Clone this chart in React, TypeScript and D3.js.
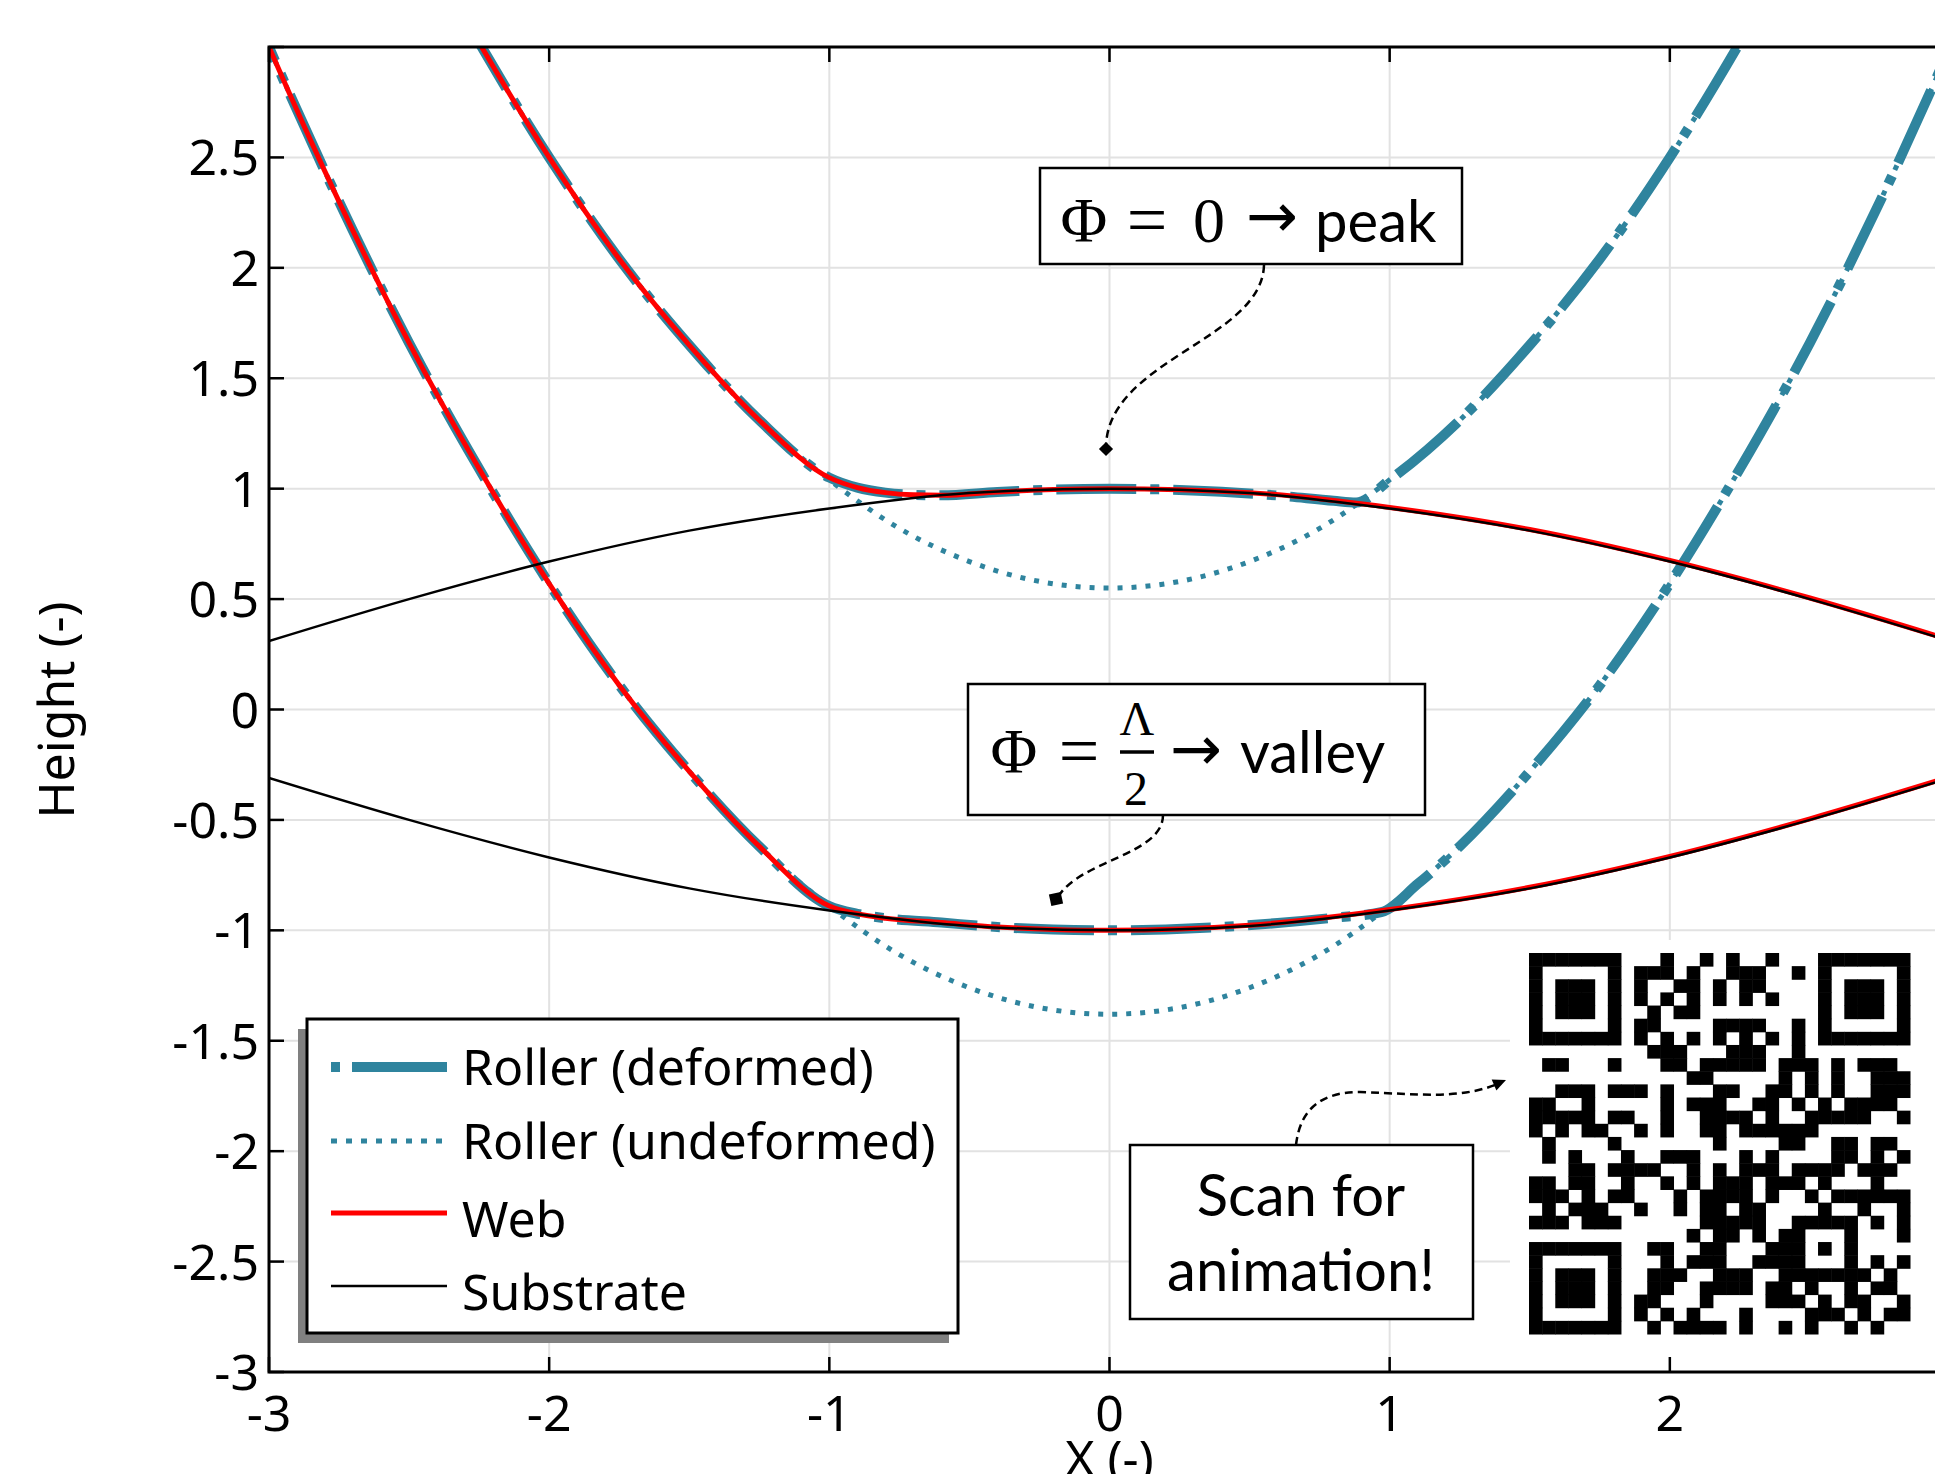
import { useEffect, useRef } from "react"
import * as d3 from "d3"

const W = 1935
const H = 1474

// axis ticks
const xTicks = [-3, -2, -1, 0, 1, 2, 3]
const yTicks = [-3, -2.5, -2, -1.5, -1, -0.5, 0, 0.5, 1, 1.5, 2, 2.5, 3]

// substrate (black)
const substrateX = [-3, -2.5, -2, -1.5, -1, -0.5, 0, 0.5, 1, 1.5, 2, 2.5, 3]
const substrateUpperY = [0.31, 0.5, 0.67, 0.81, 0.91, 0.98, 1.0, 0.98, 0.91, 0.81, 0.67, 0.5, 0.31]
const substrateLowerY = [-0.31, -0.5, -0.67, -0.81, -0.91, -0.98, -1.0, -0.98, -0.91, -0.81, -0.67, -0.5, -0.31]

// web (red)
const webUpperX = [-2.5, -2.25, -2, -1.75, -1.5, -1.25, -1, -0.9, -0.8, -0.7, -0.6, -0.4, -0.2, 0, 0.5, 1, 1.5, 2, 2.5, 3]
const webUpperY = [3.59, 3.02, 2.5, 2.04, 1.65, 1.31, 1.05, 1.005, 0.982, 0.972, 0.97, 0.985, 0.996, 1.0, 0.982, 0.915, 0.815, 0.675, 0.505, 0.315]
const webLowerX = [-3.25, -3, -2.75, -2.5, -2.25, -2, -1.75, -1.5, -1.25, -1, -0.9, -0.8, -0.6, -0.4, -0.2, 0, 0.5, 1, 1.5, 2, 2.5, 3]
const webLowerY = [3.76, 3.0, 2.3, 1.66, 1.09, 0.57, 0.11, -0.28, -0.62, -0.89, -0.925, -0.945, -0.965, -0.985, -0.996, -1.0, -0.977, -0.906, -0.805, -0.665, -0.495, -0.305]

// roller, deformed (teal dash-dot)
const rollerUpperDefX = [-2.5, -2.25, -2, -1.75, -1.5, -1.25, -1, -0.9, -0.8, -0.7, -0.6, -0.4, -0.2, 0, 0.2, 0.4, 0.6, 0.8, 0.88, 1.0, 1.25, 1.5, 1.75, 2, 2.25, 2.5]
const rollerUpperDefY = [3.59, 3.02, 2.5, 2.04, 1.65, 1.31, 1.05, 1.005, 0.982, 0.972, 0.97, 0.985, 0.996, 1.0, 0.996, 0.986, 0.969, 0.945, 0.937, 1.04, 1.31, 1.65, 2.04, 2.5, 3.02, 3.59]
const rollerLowerDefX = [-3.25, -3, -2.75, -2.5, -2.25, -2, -1.75, -1.5, -1.25, -1, -0.9, -0.8, -0.6, -0.4, -0.2, 0, 0.2, 0.4, 0.6, 0.8, 0.97, 1.1, 1.25, 1.5, 1.75, 2, 2.25, 2.5, 2.75, 3, 3.25]
const rollerLowerDefY = [3.76, 3.0, 2.3, 1.66, 1.09, 0.57, 0.11, -0.28, -0.62, -0.89, -0.925, -0.945, -0.965, -0.985, -0.996, -1.0, -0.996, -0.985, -0.967, -0.943, -0.918, -0.79, -0.62, -0.28, 0.11, 0.57, 1.09, 1.66, 2.3, 3.0, 3.76]

// roller, undeformed (teal dotted)
const rollerUpperUndefX = [-2.5, -2.25, -2, -1.75, -1.5, -1.25, -1, -0.75, -0.5, -0.25, 0, 0.25, 0.5, 0.75, 1, 1.25, 1.5, 1.75, 2, 2.25, 2.5]
const rollerUpperUndefY = [3.59, 3.02, 2.5, 2.04, 1.65, 1.31, 1.04, 0.82, 0.67, 0.58, 0.55, 0.58, 0.67, 0.82, 1.04, 1.31, 1.65, 2.04, 2.5, 3.02, 3.59]
const rollerLowerUndefX = [-3.25, -3, -2.75, -2.5, -2.25, -2, -1.75, -1.5, -1.25, -1, -0.75, -0.5, -0.25, 0, 0.25, 0.5, 0.75, 1, 1.25, 1.5, 1.75, 2, 2.25, 2.5, 2.75, 3, 3.25]
const rollerLowerUndefY = [3.76, 3.0, 2.3, 1.66, 1.09, 0.57, 0.11, -0.28, -0.62, -0.89, -1.11, -1.26, -1.35, -1.38, -1.35, -1.26, -1.11, -0.89, -0.62, -0.28, 0.11, 0.57, 1.09, 1.66, 2.3, 3.0, 3.76]

const legendLabels = ["Roller (deformed)", "Roller (undeformed)", "Web", "Substrate"]

// QR code modules, row by row
const qrRows = [
  "11111110001001010010001111111",
  "10000010111010011100101000001",
  "10111010100110101100001011101",
  "10111010101010101010001011101",
  "10111010010110000000001011101",
  "10000010110000111100101000001",
  "11111110101010101010101111111",
  "00000000011100011100100000000",
  "01100010001101111101110101110",
  "00000000000011000001010100111",
  "00111011101000110011010100111",
  "11001000001011100110101011110",
  "11111011001001111010011111001",
  "10101100101001101111110000000",
  "01000010000000100001100110110",
  "01010001001110001010000110101",
  "00011011110010101110111101110",
  "11011001001010111011101000100",
  "11101011000101111010010111111",
  "01011100100101101100001001001",
  "11101110000001111100111110101",
  "00000000000010110101100010001",
  "11111110011001100011101010000",
  "10000010001011100111100010101",
  "10111010011100111001111111010",
  "10111010011001111011010010110",
  "10111010110001000011101011001",
  "10000010101010001000011101011",
  "11111110010111101001010010100",
]

const TEAL = "#2f849e"
const AXIS_FONT = "'Noto Sans', 'Open Sans', sans-serif"
const NOTE_FONT = "Lato, 'Open Sans', sans-serif"
const MATH_FONT = "'Liberation Serif', 'DejaVu Serif', serif"
const ARROW_FONT = "'DejaVu Sans', sans-serif"

export default function App() {
  const ref = useRef<HTMLDivElement>(null)

  useEffect(() => {
    const root = d3.select(ref.current)
    root.select("svg").remove()

    const svg = root.append("svg")
      .attr("width", W)
      .attr("height", H)
      .style("display", "block")
      .style("background", "#fff")

    const x = d3.scaleLinear().domain([-3, 3]).range([269, 1950])
    const y = d3.scaleLinear().domain([-3, 3]).range([1372, 47])

    svg.append("defs").append("clipPath").attr("id", "plotclip")
      .append("rect")
      .attr("x", x(-3)).attr("y", y(3))
      .attr("width", x(3) - x(-3)).attr("height", y(-3) - y(3))

    // grid
    const grid = svg.append("g")
    grid.selectAll("line.vx").data(xTicks.slice(1, -1)).join("line")
      .attr("x1", d => x(d)).attr("x2", d => x(d))
      .attr("y1", y(3)).attr("y2", y(-3))
      .attr("stroke", "#e2e2e2").attr("stroke-width", 2)
    grid.selectAll("line.hy").data(yTicks.slice(1, -1)).join("line")
      .attr("y1", d => y(d)).attr("y2", d => y(d))
      .attr("x1", x(-3)).attr("x2", x(3))
      .attr("stroke", "#e2e2e2").attr("stroke-width", 2)

    // white area behind the QR code
    svg.append("rect")
      .attr("x", 1510).attr("y", 940)
      .attr("width", 440).attr("height", y(-3) - 940)
      .attr("fill", "#fff")

    const line = d3.line<[number, number]>()
      .x(d => x(d[0]))
      .y(d => y(d[1]))
      .curve(d3.curveMonotoneX)

    const curves = svg.append("g").attr("clip-path", "url(#plotclip)")

    const draw = (xs: number[], ys: number[], color: string, width: number, dash: string | null) => {
      curves.append("path")
        .attr("d", line(d3.zip(xs, ys) as [number, number][]))
        .attr("fill", "none")
        .attr("stroke", color)
        .attr("stroke-width", width)
        .attr("stroke-dasharray", dash)
    }

    draw(rollerUpperDefX, rollerUpperDefY, TEAL, 10, "80,14,9,14")
    draw(rollerLowerDefX, rollerLowerDefY, TEAL, 10, "80,14,9,14")
    draw(rollerUpperUndefX, rollerUpperUndefY, TEAL, 5, "5,9")
    draw(rollerLowerUndefX, rollerLowerUndefY, TEAL, 5, "5,9")
    draw(webUpperX, webUpperY, "#ff0000", 5, null)
    draw(webLowerX, webLowerY, "#ff0000", 5, null)
    draw(substrateX, substrateUpperY, "#000", 2.5, null)
    draw(substrateX, substrateLowerY, "#000", 2.5, null)

    // frame and ticks
    const axes = svg.append("g")
    axes.append("rect")
      .attr("x", x(-3)).attr("y", y(3))
      .attr("width", x(3) - x(-3)).attr("height", y(-3) - y(3))
      .attr("fill", "none").attr("stroke", "#000").attr("stroke-width", 3)
    xTicks.forEach(t => {
      axes.append("line").attr("x1", x(t)).attr("x2", x(t)).attr("y1", y(-3)).attr("y2", y(-3) - 15)
        .attr("stroke", "#000").attr("stroke-width", 2.5)
      axes.append("line").attr("x1", x(t)).attr("x2", x(t)).attr("y1", y(3)).attr("y2", y(3) + 15)
        .attr("stroke", "#000").attr("stroke-width", 2.5)
    })
    yTicks.forEach(t => {
      axes.append("line").attr("x1", x(-3)).attr("x2", x(-3) + 15).attr("y1", y(t)).attr("y2", y(t))
        .attr("stroke", "#000").attr("stroke-width", 2.5)
    })

    axes.selectAll("text.xt").data(xTicks).join("text")
      .attr("x", d => x(d)).attr("y", 1431)
      .attr("text-anchor", "middle")
      .style("font-family", AXIS_FONT).style("font-size", "50px")
      .text(d => String(d))
    axes.selectAll("text.yt").data(yTicks.slice(0, -1)).join("text")
      .attr("x", 259).attr("y", d => y(d)).attr("dy", "0.36em")
      .attr("text-anchor", "end")
      .style("font-family", AXIS_FONT).style("font-size", "50px")
      .text(d => String(d))

    svg.append("text")
      .attr("transform", "translate(74,710) rotate(-90)")
      .attr("text-anchor", "middle")
      .style("font-family", AXIS_FONT).style("font-size", "50px")
      .text("Height (-)")
    svg.append("text")
      .attr("x", x(0)).attr("y", 1476)
      .attr("text-anchor", "middle")
      .style("font-family", AXIS_FONT).style("font-size", "50px")
      .text("X (-)")

    // legend
    const lg = svg.append("g")
    lg.append("rect").attr("x", 298).attr("y", 1029).attr("width", 651).attr("height", 314).attr("fill", "#808080")
    lg.append("rect").attr("x", 307).attr("y", 1019).attr("width", 651).attr("height", 314)
      .attr("fill", "#fff").attr("stroke", "#000").attr("stroke-width", 3)
    const sampleY = [1067, 1141, 1213, 1286]
    const textY = [1085, 1159, 1237, 1310]
    const samples = [
      { color: TEAL, width: 10, dash: "9,12,95", offset: 0 },
      { color: TEAL, width: 5, dash: "6,9", offset: 0 },
      { color: "#ff0000", width: 5, dash: null, offset: 0 },
      { color: "#000", width: 2.5, dash: null, offset: 0 },
    ]
    legendLabels.forEach((label, i) => {
      lg.append("line")
        .attr("x1", 331).attr("x2", 447).attr("y1", sampleY[i]).attr("y2", sampleY[i])
        .attr("stroke", samples[i].color).attr("stroke-width", samples[i].width)
        .attr("stroke-dasharray", samples[i].dash)
        .attr("stroke-dashoffset", samples[i].offset)
      lg.append("text")
        .attr("x", 462).attr("y", textY[i])
        .style("font-family", AXIS_FONT).style("font-size", "50px")
        .text(label)
    })

    // annotations
    const notes = svg.append("g")
    const leader = (d: string) => notes.append("path").attr("d", d)
      .attr("fill", "none").attr("stroke", "#000").attr("stroke-width", 2.5).attr("stroke-dasharray", "8,5")

    leader("M1264,265 C1262,340 1106,360 1106,448")
    notes.append("rect").attr("x", -5).attr("y", -5).attr("width", 10).attr("height", 10)
      .attr("transform", "translate(1106,449) rotate(45)")
    leader("M1163,815 C1163,855 1080,860 1058,897")
    notes.append("rect").attr("x", -6).attr("y", -6).attr("width", 12).attr("height", 12)
      .attr("transform", "translate(1056,899) rotate(-12)")
    leader("M1296,1145 C1300,1110 1320,1092 1360,1092 C1420,1094 1460,1100 1500,1083")
    notes.append("path").attr("d", "M0,0 L-13,-6 L-13,6 Z")
      .attr("transform", "translate(1506,1080) rotate(-23)")

    const box = (bx: number, by: number, bw: number, bh: number) =>
      notes.append("rect").attr("x", bx).attr("y", by).attr("width", bw).attr("height", bh)
        .attr("fill", "#fff").attr("stroke", "#000").attr("stroke-width", 2.5)
    const txt = (s: string, tx: number, ty: number, font: string, size: number, anchor = "middle") =>
      notes.append("text").attr("x", tx).attr("y", ty)
        .attr("text-anchor", anchor)
        .style("font-family", font).style("font-size", `${size}px`)
        .text(s)

    box(1040, 168, 422, 96)
    txt("Φ", 1084, 242, MATH_FONT, 64)
    txt("=", 1147, 244, MATH_FONT, 72)
    txt("0", 1209, 242, MATH_FONT, 64)
    txt("→", 1272, 237, ARROW_FONT, 62)
    txt("peak", 1315, 242, NOTE_FONT, 58, "start")

    box(968, 684, 457, 131)
    txt("Φ", 1014, 773, MATH_FONT, 64)
    txt("=", 1079, 775, MATH_FONT, 72)
    txt("Λ", 1137, 735, MATH_FONT, 48)
    notes.append("line").attr("x1", 1120).attr("x2", 1154).attr("y1", 752).attr("y2", 752)
      .attr("stroke", "#000").attr("stroke-width", 3.5)
    txt("2", 1136, 805, MATH_FONT, 48)
    txt("→", 1196, 770, ARROW_FONT, 62)
    txt("valley", 1240, 773, NOTE_FONT, 58, "start")

    box(1130, 1145, 343, 174)
    txt("Scan for", 1301, 1216, NOTE_FONT, 58)
    txt("animation!", 1301, 1291, NOTE_FONT, 58)

    // QR code
    const qx = d3.scaleBand<number>().domain(d3.range(29)).range([1529, 1910])
    const qy = d3.scaleBand<number>().domain(d3.range(29)).range([953, 1334])
    const cells: [number, number][] = []
    qrRows.forEach((row, r) => row.split("").forEach((c, k) => { if (c === "1") cells.push([r, k]) }))
    svg.append("g").selectAll("rect").data(cells).join("rect")
      .attr("x", d => qx(d[1]) as number)
      .attr("y", d => qy(d[0]) as number)
      .attr("width", qx.bandwidth() + 0.5)
      .attr("height", qy.bandwidth() + 0.5)
      .attr("fill", "#000")
  }, [])

  return <div ref={ref} style={{ position: "absolute", left: 0, top: 0, width: W, height: H, overflow: "hidden" }} />
}
